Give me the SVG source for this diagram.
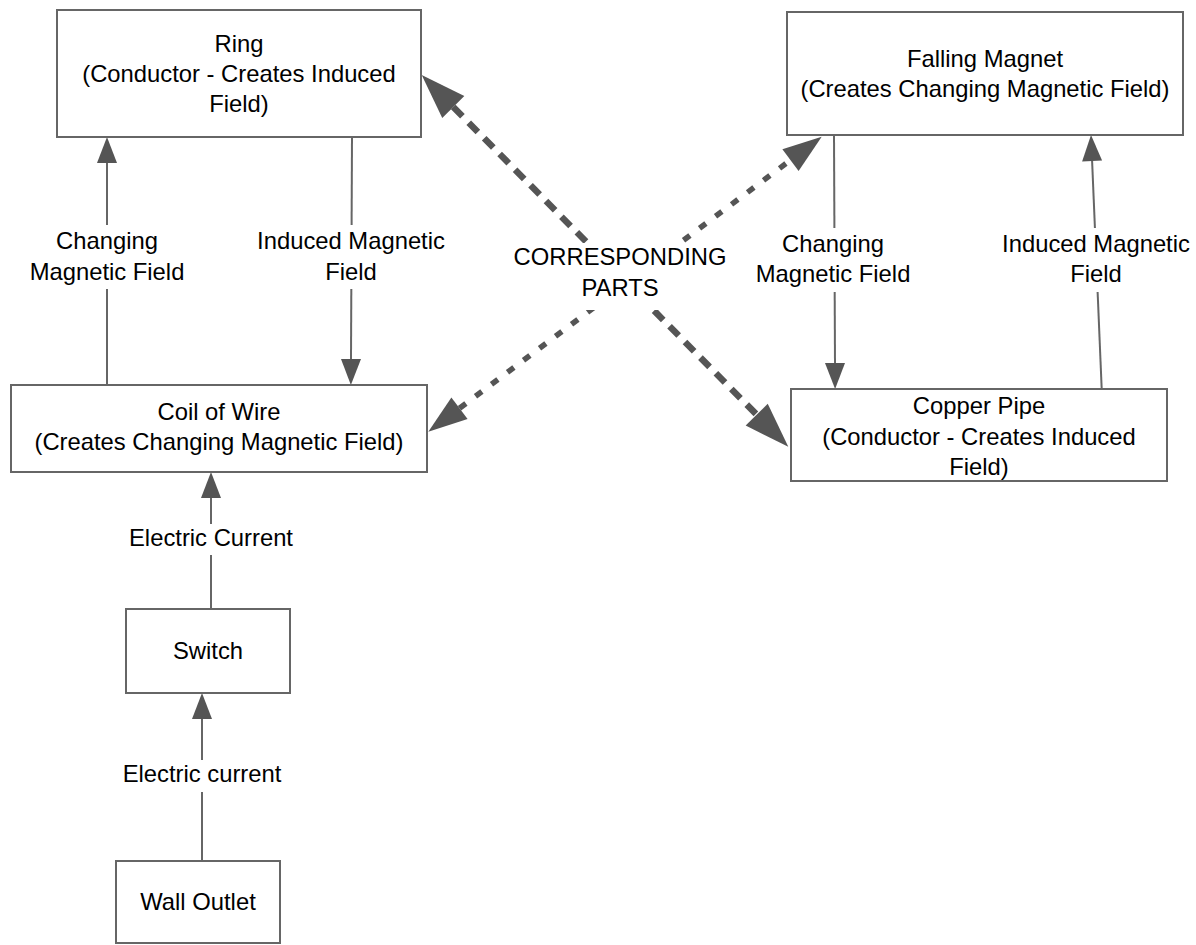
<svg xmlns="http://www.w3.org/2000/svg" width="1196" height="945" viewBox="0 0 1196 945">
  <style>
    .box { fill: #ffffff; stroke: #666666; stroke-width: 2; }
    .txt { font-family: "Liberation Sans", Arial, sans-serif; font-size: 23.8px; fill: #000000; text-anchor: middle; }
    .edge { fill: none; stroke: #666666; stroke-width: 2; }
    .bg { fill: #ffffff; stroke: none; }
    .dashA { fill: none; stroke: #555555; stroke-width: 6.5; stroke-dasharray: 13 9; }
    .dashB { fill: none; stroke: #555555; stroke-width: 5.5; stroke-dasharray: 8 12; }
  </style>
  <defs>
    <!-- solid connector head: starts at line end, extends 26px forward -->
    <marker id="arrow" markerUnits="userSpaceOnUse" markerWidth="26" markerHeight="20" refX="0" refY="10" orient="auto" overflow="visible">
      <path d="M0,0 L26,10 L0,20 Z" fill="#555555"/>
    </marker>
    <!-- large head for the thick dashed link -->
    <marker id="bigA" markerUnits="userSpaceOnUse" markerWidth="45" markerHeight="31" refX="0" refY="15.5" orient="auto-start-reverse" overflow="visible">
      <path d="M0,0 L45,15.5 L0,31 Z" fill="#555555"/>
    </marker>
    <!-- slightly smaller head for the second dashed link -->
    <marker id="bigB" markerUnits="userSpaceOnUse" markerWidth="39" markerHeight="27" refX="0" refY="13.5" orient="auto-start-reverse" overflow="visible">
      <path d="M0,0 L39,13.5 L0,27 Z" fill="#555555"/>
    </marker>
  </defs>

  <rect width="1196" height="945" fill="#ffffff"/>

  <g id="connectors">
    <!-- Wall Outlet -> Switch -->
    <line class="edge" x1="202" y1="861" x2="202" y2="719" marker-end="url(#arrow)"/>
    <!-- Switch -> Coil of Wire -->
    <line class="edge" x1="211" y1="609" x2="211" y2="498" marker-end="url(#arrow)"/>
    <!-- Coil of Wire -> Ring -->
    <line class="edge" x1="107" y1="385" x2="107" y2="163" marker-end="url(#arrow)"/>
    <!-- Ring -> Coil of Wire -->
    <line class="edge" x1="352" y1="137" x2="351" y2="359" marker-end="url(#arrow)"/>
    <!-- Falling Magnet -> Copper Pipe -->
    <line class="edge" x1="834" y1="135" x2="835" y2="363" marker-end="url(#arrow)"/>
    <!-- Copper Pipe -> Falling Magnet -->
    <line class="edge" x1="1101.7" y1="389" x2="1092.1" y2="161" marker-end="url(#arrow)"/>

    <!-- corresponding parts links -->
    <line class="dashA" x1="453.3" y1="107" x2="756.7" y2="414.7" marker-start="url(#bigA)" marker-end="url(#bigA)"/>
    <line class="dashB" x1="459.5" y1="408.3" x2="790.5" y2="160.1" marker-start="url(#bigB)" marker-end="url(#bigB)"/>

    <!-- label backgrounds -->
    <rect class="bg" x="120" y="760" width="164" height="32"/>
    <rect class="bg" x="128" y="524" width="166" height="31"/>
    <rect class="bg" x="28" y="225" width="160" height="64"/>
    <rect class="bg" x="255" y="225" width="194" height="64"/>
    <rect class="bg" x="754" y="228" width="160" height="64"/>
    <rect class="bg" x="998" y="228" width="196" height="64"/>
    <rect class="bg" x="508" y="243" width="224" height="67"/>

    <!-- labels -->
    <text class="txt" x="202" y="782">Electric current</text>
    <text class="txt" x="211" y="546">Electric Current</text>
    <text class="txt" x="107" y="249">Changing</text>
    <text class="txt" x="107" y="280">Magnetic Field</text>
    <text class="txt" x="351" y="249">Induced Magnetic</text>
    <text class="txt" x="351" y="280">Field</text>
    <text class="txt" x="833" y="252">Changing</text>
    <text class="txt" x="833" y="282">Magnetic Field</text>
    <text class="txt" x="1096" y="252">Induced Magnetic</text>
    <text class="txt" x="1096" y="282">Field</text>
    <text class="txt" x="620" y="265">CORRESPONDING</text>
    <text class="txt" x="620" y="296">PARTS</text>
  </g>

  <g id="ring">
    <rect class="box" x="57" y="10" width="364" height="127"/>
    <text class="txt" x="239" y="52">Ring</text>
    <text class="txt" x="239" y="82">(Conductor - Creates Induced</text>
    <text class="txt" x="239" y="112">Field)</text>
  </g>

  <g id="falling-magnet">
    <rect class="box" x="787" y="12" width="396" height="123"/>
    <text class="txt" x="985" y="67">Falling Magnet</text>
    <text class="txt" x="985" y="97">(Creates Changing Magnetic Field)</text>
  </g>

  <g id="coil-of-wire">
    <rect class="box" x="11" y="385" width="416" height="87"/>
    <text class="txt" x="219" y="420">Coil of Wire</text>
    <text class="txt" x="219" y="450">(Creates Changing Magnetic Field)</text>
  </g>

  <g id="copper-pipe">
    <rect class="box" x="791" y="389" width="376" height="92"/>
    <text class="txt" x="979" y="414">Copper Pipe</text>
    <text class="txt" x="979" y="445">(Conductor - Creates Induced</text>
    <text class="txt" x="979" y="475">Field)</text>
  </g>

  <g id="switch">
    <rect class="box" x="126" y="609" width="164" height="84"/>
    <text class="txt" x="208" y="659">Switch</text>
  </g>

  <g id="wall-outlet">
    <rect class="box" x="116" y="861" width="164" height="82"/>
    <text class="txt" x="198" y="910">Wall Outlet</text>
  </g>
</svg>
